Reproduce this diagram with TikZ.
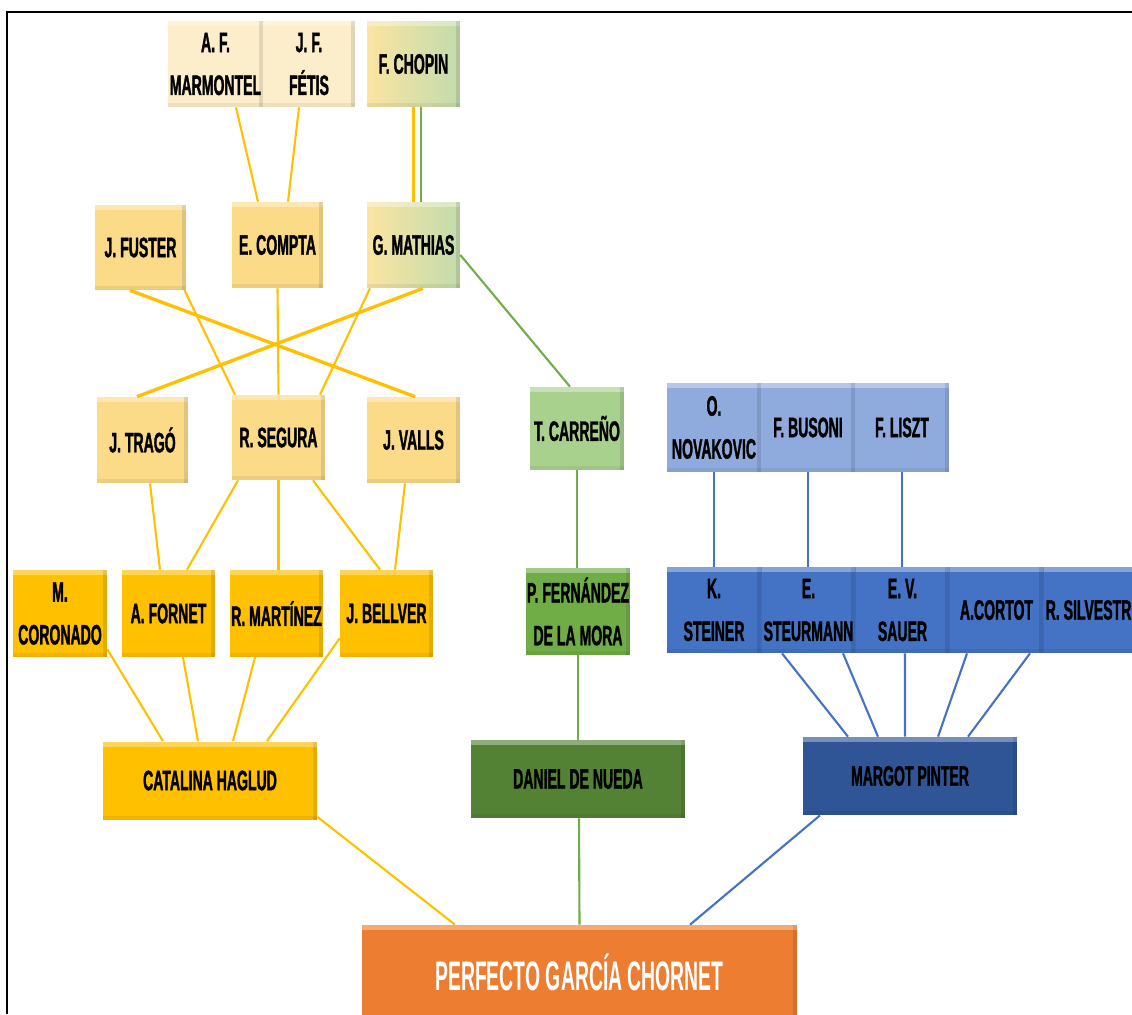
\documentclass[tikz,border=0pt]{standalone}
\usepackage{fontspec}
\usetikzlibrary{calc}
\newfontfamily\namefont[FakeStretch=0.5,FakeBold=1.2]{Liberation Sans}
\newfontfamily\titlefont[FakeStretch=0.47]{Liberation Sans}

\definecolor{paleY}{HTML}{FCEDCB}
\definecolor{chopY}{HTML}{FBE4A2}
\definecolor{chopG}{HTML}{C2DCAC}
\definecolor{midY}{HTML}{FBDA88}
\definecolor{gold}{HTML}{FFC000}
\definecolor{lgreen}{HTML}{A9D18E}
\definecolor{mgreen}{HTML}{70AD47}
\definecolor{dgreen}{HTML}{548235}
\definecolor{lblue}{HTML}{8FAADC}
\definecolor{mblue}{HTML}{4472C4}
\definecolor{dblue}{HTML}{2F5597}
\definecolor{orng}{HTML}{ED7D31}

\begin{document}
\begin{tikzpicture}[x=0.02cm,y=-0.02cm,
    box/.style={rectangle,inner sep=0pt,align=center,minimum width=1.86cm,minimum height=1.72cm,
        font=\namefont\bfseries\fontsize{16}{24.4}\selectfont,
        path picture={
            \fill[white,opacity=0.35](path picture bounding box.north west)rectangle([yshift=-3pt]path picture bounding box.north east);
            \fill[black,opacity=0.1](path picture bounding box.south east)rectangle([xshift=-2.5pt]path picture bounding box.north east);
            \fill[black,opacity=0.06](path picture bounding box.south west)rectangle([yshift=2pt]path picture bounding box.south east);
        }},
    wide/.style={box,minimum width=4.28cm,minimum height=1.56cm},
    link/.style={line width=1.2pt},
    heavy/.style={line width=1.9pt}]
    \useasboundingbox(0,0)rectangle(1132,1014);
    \draw[line width=1.2pt](1132,12)--(7,12)--(7,1014);

    \node[box,fill=paleY,minimum width=1.9cm](marmontel)at(215.5,64){A. F.\\MARMONTEL};
    \node[box,fill=paleY,minimum width=1.84cm](fetis)at(309,64){J. F.\\FÉTIS};
    \node[box,left color=chopY,right color=chopG](chopin)at(413.5,64){F. CHOPIN};

    \node[box,fill=midY,minimum width=1.82cm,minimum height=1.7cm](fuster)at(140.5,247.5){J. FUSTER};
    \node[box,fill=midY,minimum width=1.82cm](compta)at(277.5,245){E. COMPTA};
    \node[box,left color=chopY,right color=chopG](mathias)at(413.5,245){G. MATHIAS};

    \node[box,fill=midY,minimum width=1.82cm](trago)at(142.5,440){J. TRAGÓ};
    \node[box,fill=midY,minimum height=1.7cm](segura)at(278.5,437.5){R. SEGURA};
    \node[box,fill=midY](valls)at(413.5,440){J. VALLS};
    \node[box,fill=lgreen,minimum width=1.88cm,minimum height=1.66cm](carreno)at(577,428.5){T. CARREÑO};

    \node[box,fill=lblue,minimum width=1.9cm,minimum height=1.78cm](novakovic)at(714,427.5){O.\\NOVAKOVIC};
    \node[box,fill=lblue,minimum width=1.88cm,minimum height=1.78cm](busoni)at(808,427.5){F. BUSONI};
    \node[box,fill=lblue,minimum width=1.88cm,minimum height=1.78cm](liszt)at(902,427.5){F. LISZT};

    \node[box,fill=gold,minimum width=1.88cm,minimum height=1.74cm](coronado)at(60,613.5){M.\\CORONADO};
    \node[box,fill=gold,minimum height=1.74cm](fornet)at(168.5,613.5){A. FORNET};
    \node[box,fill=gold,minimum height=1.74cm](martinez)at(276.5,613.5){R. MARTÍNEZ};
    \node[box,fill=gold,minimum height=1.74cm](bellver)at(386.5,613.5){J. BELLVER};
    \node[box,fill=mgreen,minimum width=2.08cm,minimum height=1.74cm](fernandez)at(578,611.5){P. FERNÁNDEZ\\DE LA MORA};

    \node[box,fill=mblue,minimum width=1.9cm](steiner)at(714,610){K.\\STEINER};
    \node[box,fill=mblue,minimum width=1.88cm](steurmann)at(808.5,610){E.\\STEURMANN};
    \node[box,fill=mblue,minimum width=1.88cm](sauer)at(902.5,610){E. V.\\SAUER};
    \node[box,fill=mblue,minimum width=1.88cm](cortot)at(996.5,610){A.CORTOT};
    \node[box,fill=mblue,minimum width=1.88cm](silvestri)at(1090.5,610){R. SILVESTRI};

    \node[wide,fill=gold](haglud)at(210,780.5){CATALINA HAGLUD};
    \node[wide,fill=dgreen](nueda)at(578,779){DANIEL DE NUEDA};
    \node[wide,fill=dblue](pinter)at(910,776){MARGOT PINTER};
    \node[box,fill=orng,text=white,minimum width=8.7cm,minimum height=1.9cm,font=\titlefont\bfseries\fontsize{23.5}{28}\selectfont](garcia)at(579.5,972.5){PERFECTO GARCÍA CHORNET};

    \draw[link,gold]($(marmontel.south)+(20.5,0)$)--($(compta.north)+(-19.5,0)$);
    \draw[link,gold]($(fetis.south)+(-10,0)$)--($(compta.north)+(10.5,0)$);
    \draw[link,gold](chopin.south)--(mathias.north);
    \draw[link,mgreen]($(chopin.south)+(7.5,0)$)--($(mathias.north)+(7.5,0)$);
    \draw[link,mgreen]($(mathias.east)+(0,10)$)--($(carreno.north)+(-7,0)$);

    \draw[heavy,gold]($(fuster.south)+(-10.5,0)$)--($(valls.north)+(1.5,0)$);
    \draw[link,gold]($(fuster.south)+(44,0)$)--($(segura.north)+(-43.5,0)$);
    \draw[link,gold](compta.south)--(segura.north);
    \draw[link,gold]($(mathias.south)+(-43.5,0)$)--($(segura.north)+(41.5,0)$);
    \draw[heavy,gold]($(mathias.south)+(9.5,0)$)--($(trago.north)+(-5.5,0)$);

    \draw[link,gold]($(trago.south)+(7.5,0)$)--($(fornet.north)+(-8.5,0)$);
    \draw[link,gold]($(segura.south)+(-40.5,0)$)--($(fornet.north)+(18.5,0)$);
    \draw[link,gold](segura.south)--($(martinez.north)+(2,0)$);
    \draw[link,gold]($(segura.south)+(34.5,0)$)--($(bellver.north)+(-6.5,0)$);
    \draw[link,gold]($(valls.south)+(-8.5,0)$)--($(bellver.north)+(8.5,0)$);

    \draw[link,gold]($(coronado.south east)+(0,-8)$)--($(haglud.north)+(-47,0)$);
    \draw[link,gold]($(fornet.south)+(14.5,0)$)--($(haglud.north)+(-12,0)$);
    \draw[link,gold]($(martinez.south)+(-21.5,0)$)--($(haglud.north)+(23,0)$);
    \draw[link,gold]($(bellver.south west)+(0,-19)$)--($(haglud.north)+(57,0)$);

    \draw[link,mgreen](carreno.south)--($(fernandez.north)+(-1,0)$);
    \draw[link,mgreen](fernandez.south)--(nueda.north);
    \draw[link,mgreen]($(nueda.south)+(1,0)$)--(garcia.north);

    \draw[link,mblue](novakovic.south)--(steiner.north);
    \draw[link,mblue](busoni.south)--($(steurmann.north)+(-0.5,0)$);
    \draw[link,mblue](liszt.south)--($(sauer.north)+(-0.5,0)$);
    \draw[link,mblue]($(steurmann.south)+(-26.5,0)$)--($(pinter.north)+(-62,0)$);
    \draw[link,mblue]($(steurmann.south)+(34.5,0)$)--($(pinter.north)+(-32,0)$);
    \draw[link,mblue]($(sauer.south)+(2.5,0)$)--($(pinter.north)+(-5,0)$);
    \draw[link,mblue]($(cortot.south)+(-29.5,0)$)--($(pinter.north)+(28,0)$);
    \draw[link,mblue]($(silvestri.south)+(-60.5,0)$)--($(pinter.north)+(58,0)$);

    \draw[link,gold]($(haglud.south east)+(0,-3)$)--($(garcia.north)+(-124.5,0)$);
    \draw[link,mblue]($(pinter.south)+(-90,0)$)--($(garcia.north)+(110.5,0)$);
\end{tikzpicture}
\end{document}
